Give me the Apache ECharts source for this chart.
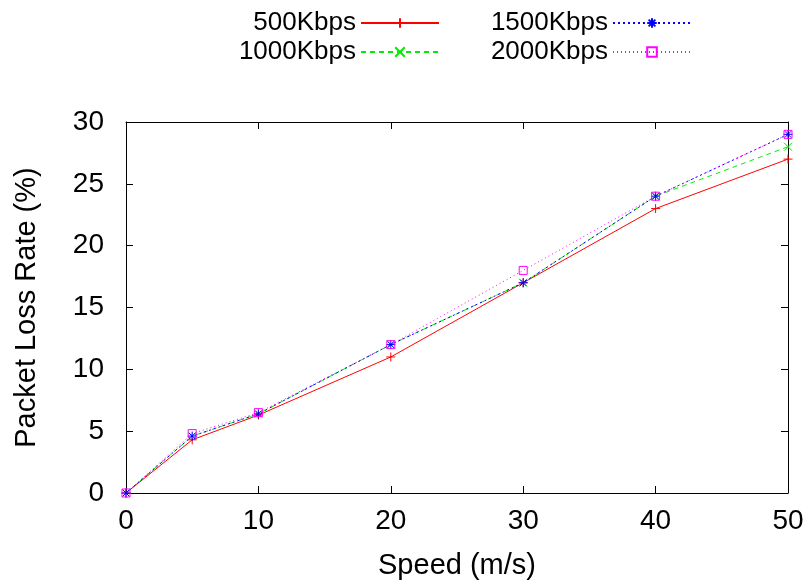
<!DOCTYPE html>
<html>
<head>
<meta charset="utf-8">
<script src="https://cdn.jsdelivr.net/npm/echarts@6/dist/echarts.min.js"></script>
<style>
  html, body { margin: 0; padding: 0; background: #fff; }
  #chart { width: 803px; height: 585px; }
</style>
</head>
<body>
<div id="chart"></div>
<script>
// speeds (m/s)
var speeds = [0, 5, 10, 20, 30, 40, 50]
// packet loss rate (%) per bitrate
var loss500 = [0, 4.3, 6.3, 11, 17, 23, 27]
var loss1000 = [0, 4.6, 6.4, 12, 17, 24, 28]
var loss1500 = [0, 4.6, 6.4, 12, 17, 24, 29]
var loss2000 = [0, 4.8, 6.5, 12, 18, 24, 29]
var xTicks = [0, 10, 20, 30, 40, 50]
var yTicks = [0, 5, 10, 15, 20, 25, 30]

var FONT = 'Liberation Sans'

function pairs(ys) {
  return speeds.map(function(x, i) { return [x, ys[i]] })
}

var symPlus = 'path://M5,0V10M0,5H10'
var symCross = 'path://M0,0L10,10M10,0L0,10'
var symStar = 'path://M5,0V10M0,5H10M1.5,1.5L8.5,8.5M8.5,1.5L1.5,8.5'
var symBox = 'path://M0,0H10V10H0Z'

function mkSeries(name, ys, color, lineType, symbol, size, fill) {
  return {
    name: name,
    type: 'line',
    data: pairs(ys),
    symbol: symbol,
    symbolSize: size,
    showAllSymbol: true,
    animation: false,
    lineStyle: { color: color, width: 1, type: lineType },
    itemStyle: { color: fill || color, borderColor: color, borderWidth: 1 }
  }
}

function mkLegend(name, right, top) {
  return {
    data: [name],
    right: right,
    top: top,
    padding: 0,
    align: 'right',
    itemWidth: 78,
    itemHeight: 12,
    textStyle: { fontFamily: FONT, fontSize: 26, color: '#000' }
  }
}

// mirrored axis (top / right) with inward ticks only
function mirror(pos, max, interval) {
  return {
    type: 'value',
    position: pos,
    min: 0,
    max: max,
    interval: interval,
    axisLine: { show: true, onZero: false, lineStyle: { color: '#000', width: 1 } },
    axisTick: { show: true, inside: true, length: 7, lineStyle: { color: '#000' } },
    axisLabel: { show: false },
    splitLine: { show: false }
  }
}

var chart = echarts.init(document.getElementById('chart'))
chart.setOption({
  backgroundColor: '#fff',
  legend: [
    mkLegend('500Kbps', 363, 10),
    mkLegend('1000Kbps', 363, 39),
    mkLegend('1500Kbps', 111, 10),
    mkLegend('2000Kbps', 111, 39)
  ],
  grid: { left: 126, right: 15, top: 122, bottom: 92, outerBoundsMode: 'none' },
  xAxis: [{
    type: 'value',
    min: 0,
    max: 50,
    interval: 10,
    name: 'Speed (m/s)',
    nameLocation: 'middle',
    nameGap: 58,
    nameTextStyle: { fontFamily: FONT, fontSize: 29, color: '#000' },
    axisLine: { onZero: false, lineStyle: { color: '#000', width: 1 } },
    axisTick: { inside: true, length: 7, lineStyle: { color: '#000' } },
    axisLabel: {
      fontFamily: FONT, fontSize: 28, color: '#000', margin: 14,
      formatter: function(v) { return xTicks.indexOf(v) >= 0 ? String(v) : '' }
    },
    splitLine: { show: false }
  }, mirror('top', 50, 10)],
  yAxis: [{
    type: 'value',
    min: 0,
    max: 30,
    interval: 5,
    name: 'Packet Loss Rate (%)',
    nameLocation: 'middle',
    nameGap: 85,
    nameTextStyle: { fontFamily: FONT, fontSize: 29, color: '#000' },
    axisLine: { show: true, onZero: false, lineStyle: { color: '#000', width: 1 } },
    axisTick: { show: true, inside: true, length: 7, lineStyle: { color: '#000' } },
    axisLabel: {
      fontFamily: FONT, fontSize: 28, color: '#000', margin: 22,
      formatter: function(v) { return yTicks.indexOf(v) >= 0 ? String(v) : '' }
    },
    splitLine: { show: false }
  }, mirror('right', 30, 5)],
  series: [
    mkSeries('500Kbps', loss500, '#ff0000', 'solid', symPlus, 9),
    mkSeries('1000Kbps', loss1000, '#00ee00', [5, 4], symCross, 8),
    mkSeries('1500Kbps', loss1500, '#0000ff', [2, 3], symStar, 9),
    mkSeries('2000Kbps', loss2000, '#ff00ff', [1, 3], symBox, 8, 'rgba(255,255,255,0)')
  ]
})
</script>
</body>
</html>
